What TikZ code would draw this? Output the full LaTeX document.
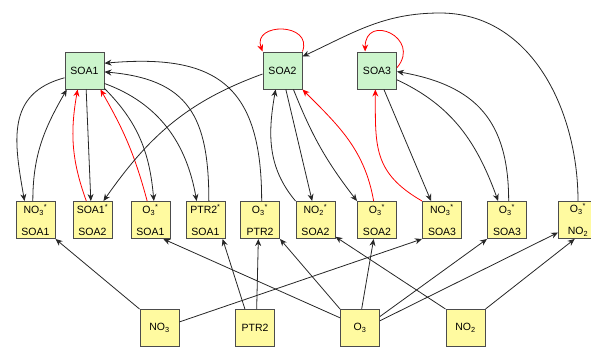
\documentclass[tikz,border=0pt]{standalone}
\usepackage{fontspec}
\setmainfont{Liberation Sans}
\usepackage{tikz}
\usetikzlibrary{arrows.meta}
\definecolor{soagreen}{RGB}{204,245,204}
\definecolor{mixyellow}{RGB}{255,250,160}
\tikzstyle{box} = [rectangle, draw=black!70, line width=1pt, inner sep=0, minimum width=39pt,
                   minimum height=37pt, align=center, font=\fontsize{10.5}{21.5}\selectfont]
\tikzstyle{soa} = [box, fill=soagreen]
\tikzstyle{mix} = [box, fill=mixyellow]
\tikzstyle{flow} = [-{Stealth[length=7pt, width=6pt]}, black!85, line width=0.8pt]
\tikzstyle{back} = [flow, red]

\begin{document}
\begin{tikzpicture}[x=1pt, y=-1pt]
	\useasboundingbox (0, 0) rectangle (591, 346);

	% SOA nodes
	\node (SOA1) [soa] at (84.5, 70.5) {SOA1};
	\node (SOA2) [soa] at (282.5, 70.5) {SOA2};
	\node (SOA3) [soa] at (377, 70.5) {SOA3};

	% products
	\node (NO3SOA1) [mix] at (35.5, 220) {NO\textsubscript{3}\textsuperscript{*}\\SOA1};
	\node (SOA1SOA2) [mix] at (92.5, 220) {SOA1\textsuperscript{*}\\SOA2};
	\node (O3SOA1) [mix] at (150.5, 220) {O\textsubscript{3}\textsuperscript{*}\\SOA1};
	\node (PTR2SOA1) [mix] at (205.5, 220) {PTR2\textsuperscript{*}\\SOA1};
	\node (O3PTR2) [mix] at (260, 220) {O\textsubscript{3}\textsuperscript{*}\\PTR2};
	\node (NO2SOA2) [mix] at (315.5, 220) {NO\textsubscript{2}\textsuperscript{*}\\SOA2};
	\node (O3SOA2) [mix] at (377, 220) {O\textsubscript{3}\textsuperscript{*}\\SOA2};
	\node (NO3SOA3) [mix] at (442, 220) {NO\textsubscript{3}\textsuperscript{*}\\SOA3};
	\node (O3SOA3) [mix] at (507, 220) {O\textsubscript{3}\textsuperscript{*}\\SOA3};
	\node (O3NO2) [mix] at (578, 220) {O\textsubscript{3}\textsuperscript{*}\\NO\textsubscript{2}};

	% oxidants and precursor
	\node (NO3) [mix] at (159.5, 328) {NO\textsubscript{3}};
	\node (PTR2) [mix] at (255, 328) {PTR2};
	\node (O3) [mix] at (360, 328) {O\textsubscript{3}};
	\node (NO2) [mix] at (465.5, 328) {NO\textsubscript{2}};

	% SOA1
	\draw [flow] (SOA1.200) to[out=195, in=100, looseness=1.2] (NO3SOA1.120);
	\draw [flow] (NO3SOA1.98) to[out=90, in=-120] (SOA1.-133);
	\draw [flow] (SOA1.-85) -- (SOA1SOA2.95);
	\draw [back] (SOA1SOA2.108) to[out=110, in=-100] (SOA1.-110);
	\draw [back] (O3SOA1.100) to[out=105, in=-60] (SOA1.-50);
	\draw [flow] (SOA1.-42) to[out=-45, in=95] (O3SOA1.80);
	\draw [flow] (SOA1.-33) to[out=-20, in=100] (PTR2SOA1.115);
	\draw [flow] (PTR2SOA1.80) to[out=90, in=-5, looseness=1.3] (SOA1.-4);
	\draw [flow] (O3PTR2.85) to[out=90, in=5, looseness=1.4] (SOA1.20);

	% SOA2
	\draw [back] (SOA2.north east) to[out=70, in=110, looseness=2] (SOA2.north west);
	\draw [flow] (SOA2.190) to[out=200, in=55] (SOA1SOA2.60);
	\draw [flow] (NO2SOA2.north west) to[out=130, in=-100] (SOA2.-110);
	\draw [flow] (SOA2.-80) -- (NO2SOA2.100);
	\draw [flow] (SOA2.-60) to[bend right=8] (O3SOA2.north west);
	\draw [back] (O3SOA2.100) to[out=100, in=-45] (SOA2.south east);
	\coordinate (ArcTop) at (440, 13);
	\draw [flow] (O3NO2.north) to[out=90, in=0] (ArcTop) to[out=180, in=25] (SOA2.35);

	% SOA3
	\draw [back] (SOA3.8) to[out=50, in=90, looseness=2.8] (SOA3.122);
	\draw [back] (NO3SOA3.north west) to[out=150, in=-90, looseness=1.2] (SOA3.-95);
	\draw [flow] (SOA3.-70) -- (NO3SOA3.120);
	\draw [flow] (SOA3.-25) to[out=-25, in=110] (O3SOA3.115);
	\draw [flow] (O3SOA3.85) to[out=90, in=-10, looseness=1.2] (SOA3.-3);

	% NO3
	\draw [flow] (NO3.north west) -- (NO3SOA1.south east);
	\draw [flow] (NO3.17) -- (NO3SOA3.south west);

	% PTR2
	\draw [flow] (PTR2.118) -- (PTR2SOA1.-48);
	\draw [flow] (PTR2.85) -- (O3PTR2.-95);

	% O3
	\draw [flow] (O3.153) -- (O3SOA1.-56);
	\draw [flow] (O3.north west) -- (O3PTR2.south east);
	\draw [flow] (O3.85) -- (O3SOA2.-100);
	\draw [flow] (O3.30) -- (O3SOA3.south west);
	\draw [flow] (O3.20) -- (O3NO2.-148);

	% NO2
	\draw [flow] (NO2.north west) -- (NO2SOA2.-40);
	\draw [flow] (NO2.north east) -- (O3NO2.-100);
\end{tikzpicture}
\end{document}
